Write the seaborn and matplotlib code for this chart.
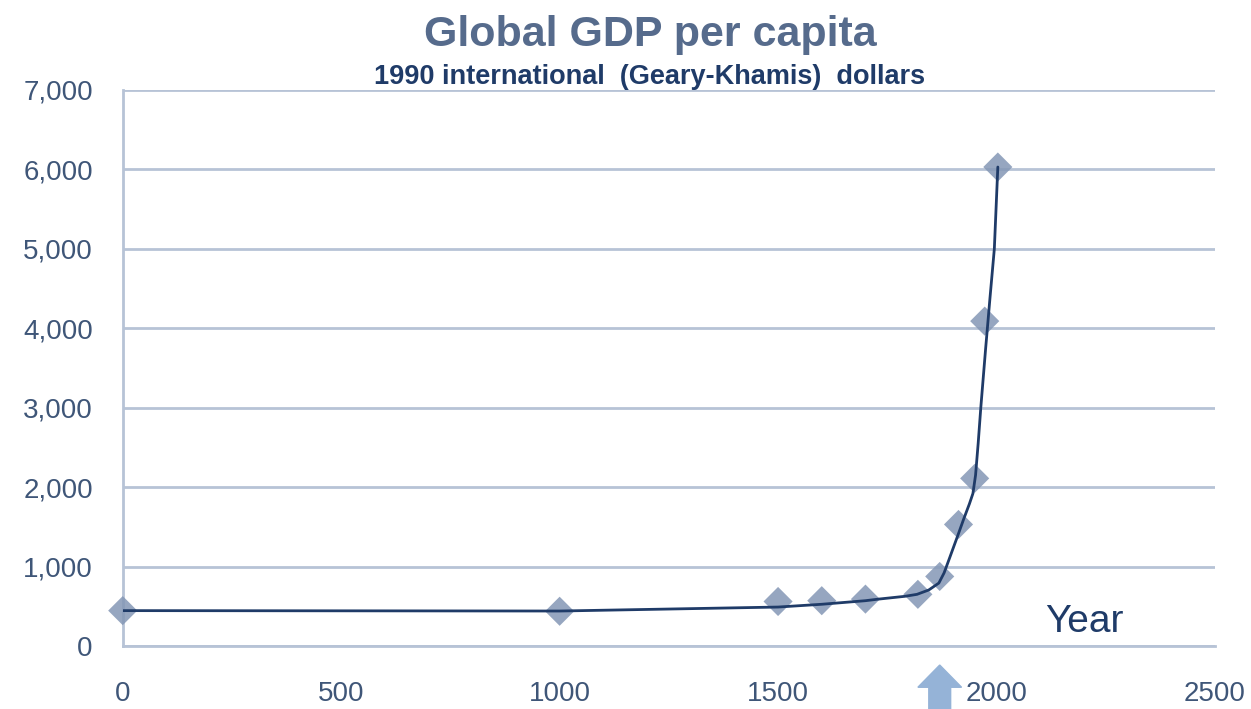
import numpy as np
import seaborn as sns
import matplotlib.pyplot as plt
import pandas as pd
from matplotlib.patches import FancyArrow
from matplotlib.ticker import FuncFormatter

# data
years = [0, 1000, 1500, 1600, 1700, 1820, 1870, 1913, 1950, 1973, 2003]
gdp = [445, 437, 560, 570, 590, 650, 875, 1530, 2110, 4090, 6030]

# the smoothed trend line drawn through the points
line_years = [0, 1000, 1500, 1600, 1700, 1730, 1790, 1818, 1845, 1868, 1880,
              1891, 1902, 1912, 1925, 1938, 1946, 1952, 1958, 1964, 1975,
              1985, 1995, 2003]
line_gdp = [445, 440, 490, 525, 570, 590, 625, 650, 705, 792, 920,
            1084, 1250, 1400, 1600, 1790, 1920, 2150, 2550, 3000, 3740,
            4380, 5000, 6030]

x_ticks = [0, 500, 1000, 1500, 2000, 2500]
y_ticks = [0, 1000, 2000, 3000, 4000, 5000, 6000, 7000]

df = pd.DataFrame({"year": years, "gdp": gdp})
df_line = pd.DataFrame({"year": line_years, "gdp": line_gdp})

sns.set_theme(style="white")
plt.rcParams['font.family'] = ['Liberation Sans', 'DejaVu Sans']

grid_col = "#b7c3d6"
tick_col = "#3f5678"
navy = "#1f3b68"

fig = plt.figure(figsize=(12.51, 7.09), dpi=100)
ax = fig.add_axes([0.0981, 0.0889, 0.9712 - 0.0981, 0.8731 - 0.0889])

sns.scatterplot(data=df, x="year", y="gdp", ax=ax, marker="D", s=220,
                color="#8497b5", alpha=0.85, edgecolor="none", zorder=3)
ax.collections[0].set_clip_on(False)
sns.lineplot(data=df_line, x="year", y="gdp", ax=ax, color=navy, lw=2,
             estimator=None, sort=False, zorder=4)

ax.set_xlim(0, 2500)
ax.set_ylim(0, 7000)
ax.set_xticks(x_ticks)
ax.set_yticks(y_ticks)
ax.yaxis.set_major_formatter(FuncFormatter(lambda v, p: f"{int(v):,}"))

ax.yaxis.grid(True, color=grid_col, lw=2)
ax.xaxis.grid(False)
ax.set_axisbelow(True)
for s in ["top", "right"]:
    ax.spines[s].set_visible(False)
ax.spines["left"].set_color(grid_col)
ax.spines["left"].set_linewidth(2)
ax.spines["bottom"].set_color(grid_col)
ax.spines["bottom"].set_linewidth(2)

ax.tick_params(axis="both", colors=grid_col, labelcolor=tick_col, labelsize=20,
               width=2, length=7.5, direction="out")
ax.tick_params(axis="x", pad=18)
ax.tick_params(axis="y", pad=14)
ax.set_xlabel("")
ax.set_ylabel("")

ax.text(2112, 300, "Year", fontsize=28, color=navy, ha="left", va="center")

arrow = FancyArrow(1870, -800, 0, 560, width=50, head_width=100,
                   head_length=280, length_includes_head=True,
                   color="#95b3d7", clip_on=False, zorder=5)
ax.add_patch(arrow)

fig.text(0.52, 0.951, "Global GDP per capita", fontsize=31, fontweight="bold",
         color="#566b8c", ha="center", va="center")
fig.text(0.519, 0.891, "1990 international  (Geary-Khamis)  dollars",
         fontsize=19.5, fontweight="bold", color=navy, ha="center", va="center")

plt.savefig("out.png", dpi=100)
